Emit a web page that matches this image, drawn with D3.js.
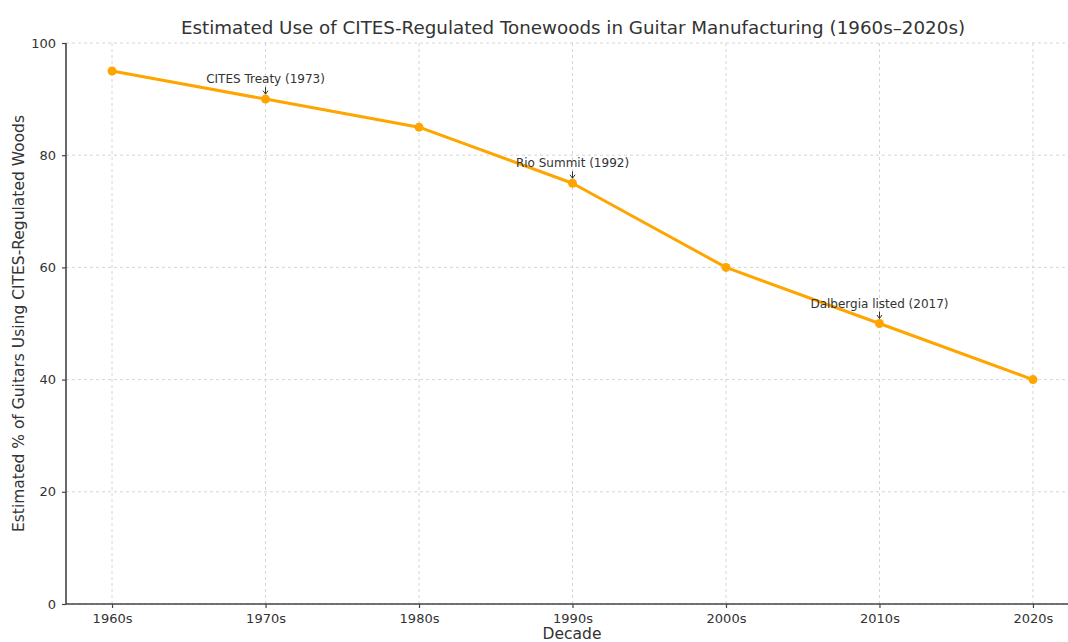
<!DOCTYPE html>
<html><head><meta charset="utf-8">
<script src="https://cdn.jsdelivr.net/npm/d3@7"></script>
<style>body{margin:0;background:#fff;} svg{display:block;font-family:"DejaVu Sans",sans-serif;}</style>
</head><body>
<svg id="c" width="1068" height="642"></svg>
<script>
const decades = ["1960s","1970s","1980s","1990s","2000s","2010s","2020s"];
const usage = [95, 90, 85, 75, 60, 50, 40];
const yTicks = [0, 20, 40, 60, 80, 100];
const annLabels = ["CITES Treaty (1973)", "Rio Summit (1992)", "Dalbergia listed (2017)"];
const annDecades = ["1970s", "1990s", "2010s"];

(function () {
const svg = d3.select("#c");
const pL = 66, pR = 1079, pT = 43, pB = 604;
const xi = d3.scaleLinear().domain([-0.3, 6.3]).range([pL, pR]);
const x = d => xi(decades.indexOf(d));
const y = d3.scaleLinear().domain([0, 100]).range([pB, pT]);

// grid
const g = svg.append("g");
g.selectAll(".gy").data(yTicks).join("line")
  .attr("x1", pL).attr("x2", 1068).attr("y1", d => y(d)).attr("y2", d => y(d))
  .attr("stroke", "#d0d0d0").attr("stroke-width", 0.9).attr("stroke-dasharray", "3,3");
g.selectAll(".gx").data(decades).join("line")
  .attr("x1", d => x(d)).attr("x2", d => x(d)).attr("y1", pT).attr("y2", pB)
  .attr("stroke", "#d0d0d0").attr("stroke-width", 0.9).attr("stroke-dasharray", "3,3");

// axes
const xAxis = d3.axisBottom(xi).tickValues(d3.range(decades.length)).tickFormat(i => decades[i]).tickSize(4).tickPadding(6);
const yAxis = d3.axisLeft(y).tickValues(yTicks).tickSize(4).tickPadding(6);
const ax = svg.append("g").attr("transform", `translate(0,${pB})`).call(xAxis);
const ay = svg.append("g").attr("transform", `translate(${pL},0)`).call(yAxis);
[ax, ay].forEach(a => {
  a.select(".domain").remove();
  a.selectAll("line").attr("stroke", "#444").attr("stroke-width", 1.2);
  a.selectAll("text").attr("fill", "#333").style("font-size", "13px").style("font-family", "DejaVu Sans");
});
svg.append("line").attr("x1", pL).attr("x2", 1068).attr("y1", pB).attr("y2", pB)
  .attr("stroke", "#444").attr("stroke-width", 1.6);
svg.append("line").attr("x1", pL).attr("x2", pL).attr("y1", pT).attr("y2", pB)
  .attr("stroke", "#444").attr("stroke-width", 1.6);

// line
const line = d3.line().x((d, i) => x(decades[i])).y(d => y(d));
svg.append("path").datum(usage).attr("d", line)
  .attr("fill", "none").attr("stroke", "#FFA500").attr("stroke-width", 3).attr("stroke-linejoin", "round");
svg.selectAll(".pt").data(usage).join("circle")
  .attr("cx", (d, i) => x(decades[i])).attr("cy", d => y(d)).attr("r", 4.5).attr("fill", "#FFA500");

// annotations
annLabels.forEach((lab, k) => {
  const d = annDecades[k];
  const v = usage[decades.indexOf(d)];
  const px = x(d), py = y(v);
  svg.append("text").attr("x", px).attr("y", py - 16).attr("text-anchor", "middle")
    .attr("fill", "#333").style("font-size", "12px").text(lab);
  svg.append("line").attr("x1", px).attr("x2", px).attr("y1", py - 12).attr("y2", py - 5)
    .attr("stroke", "#333").attr("stroke-width", 1);
  svg.append("path").attr("d", `M${px-2.5},${py-8.5}L${px},${py-5}L${px+2.5},${py-8.5}`)
    .attr("fill", "none").attr("stroke", "#333").attr("stroke-width", 1);
});

// title and labels
svg.append("text").attr("x", 573).attr("y", 34).attr("text-anchor", "middle")
  .attr("fill", "#333").style("font-size", "18.3px").text("Estimated Use of CITES-Regulated Tonewoods in Guitar Manufacturing (1960s–2020s)");
svg.append("text").attr("x", 572).attr("y", 639).attr("text-anchor", "middle")
  .attr("fill", "#333").style("font-size", "15.5px").text("Decade");
svg.append("text").attr("transform", `translate(24,${(pT + pB) / 2}) rotate(-90)`).attr("text-anchor", "middle")
  .attr("fill", "#333").style("font-size", "15.5px").text("Estimated % of Guitars Using CITES-Regulated Woods");
})();
</script>
</body></html>
